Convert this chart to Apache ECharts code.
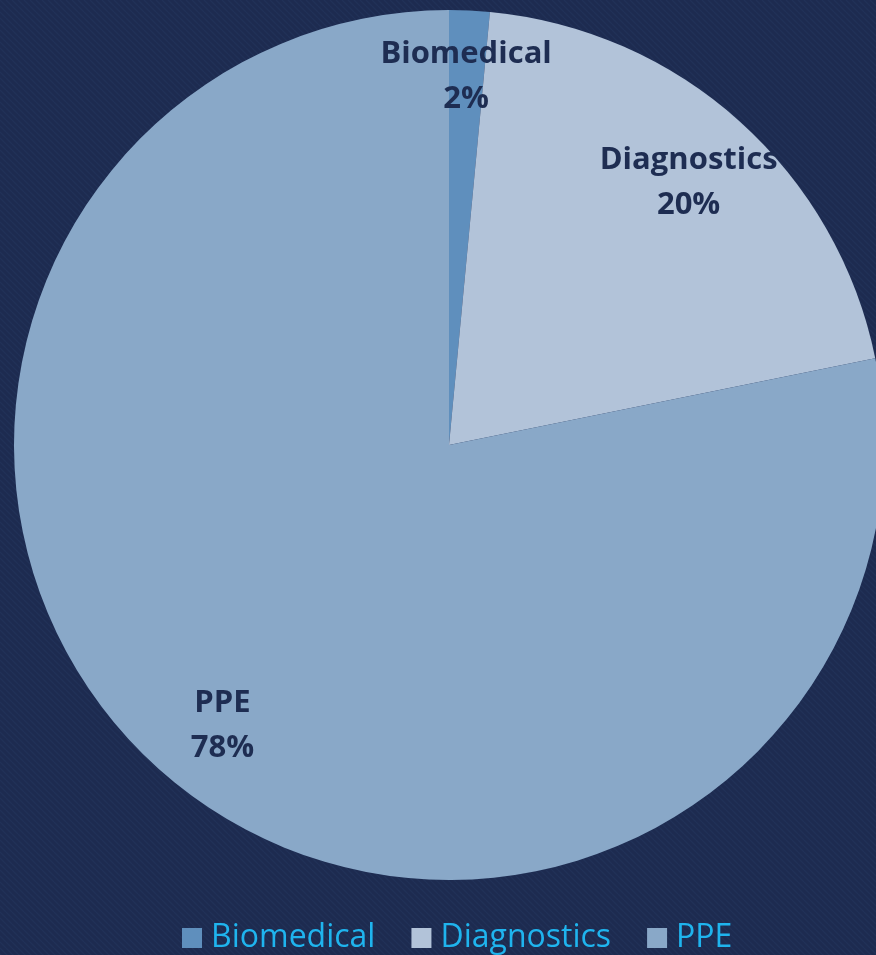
<!DOCTYPE html>
<html>
<head>
<meta charset="utf-8">
<script src="https://cdn.jsdelivr.net/npm/echarts@6/dist/echarts.min.js"></script>
<style>
html,body{margin:0;padding:0;background:#1e2c51;}
#chart{width:876px;height:955px;}
</style>
</head>
<body>
<div id="chart"></div>
<script>
const categories = ['Biomedical', 'Diagnostics', 'PPE'];
const values = [1.5, 20.3, 78.2];
const labelPercents = ['2%', '20%', '78%'];

// styling (kept separate from data)
const colors = ['#5f8fbd', '#b2c3d9', '#89a8c8'];
const labelNudge = [[0, -6], [-3, 8], [3, 0]];

// Striped background pattern
const pat = document.createElement('canvas');
pat.width = 6; pat.height = 6;
const pc = pat.getContext('2d');
pc.fillStyle = '#1d2b50';
pc.fillRect(0, 0, 6, 6);
pc.strokeStyle = '#213157';
pc.lineWidth = 1.5;
for (let k = -6; k <= 12; k += 6) {
  pc.beginPath();
  pc.moveTo(k, 0);
  pc.lineTo(k + 6, 6);
  pc.stroke();
}

const chart = echarts.init(document.getElementById('chart'), null, {renderer: 'canvas'});
const data = categories.map((c, i) => ({name: c, value: values[i], itemStyle: {color: colors[i]}}));

chart.setOption({
  backgroundColor: {image: pat, repeat: 'repeat'},
  animation: false,
  legend: {
    bottom: -4,
    left: 177,
    itemWidth: 20,
    itemHeight: 20,
    itemGap: 36,
    icon: 'rect',
    textStyle: {color: '#1fb4ee', fontSize: 32, fontFamily: 'Open Sans', padding: [0, 0, 0, 4]},
    data: categories
  },
  series: [
    {
      type: 'pie',
      center: [449, 445],
      radius: [0, 435],
      startAngle: 90,
      clockwise: true,
      label: {show: false},
      labelLine: {show: false},
      emphasis: {disabled: true},
      data: data
    },
    {
      type: 'pie',
      center: [449, 445],
      radius: [286, 434],
      startAngle: 90,
      clockwise: true,
      silent: true,
      itemStyle: {color: 'rgba(0,0,0,0)'},
      label: {
        show: true,
        position: 'inside',
        formatter: (p) => p.name + '\n' + labelPercents[p.dataIndex],
        color: '#1e2d52',
        fontSize: 31,
        fontWeight: 'bold',
        fontFamily: 'Open Sans',
        lineHeight: 45,
        align: 'center'
      },
      labelLine: {show: false},
      emphasis: {disabled: true},
      data: categories.map((c, i) => ({
        name: c,
        value: values[i],
        itemStyle: {color: 'rgba(0,0,0,0)'},
        label: {offset: labelNudge[i]}
      }))
    }
  ]
});
</script>
</body>
</html>
